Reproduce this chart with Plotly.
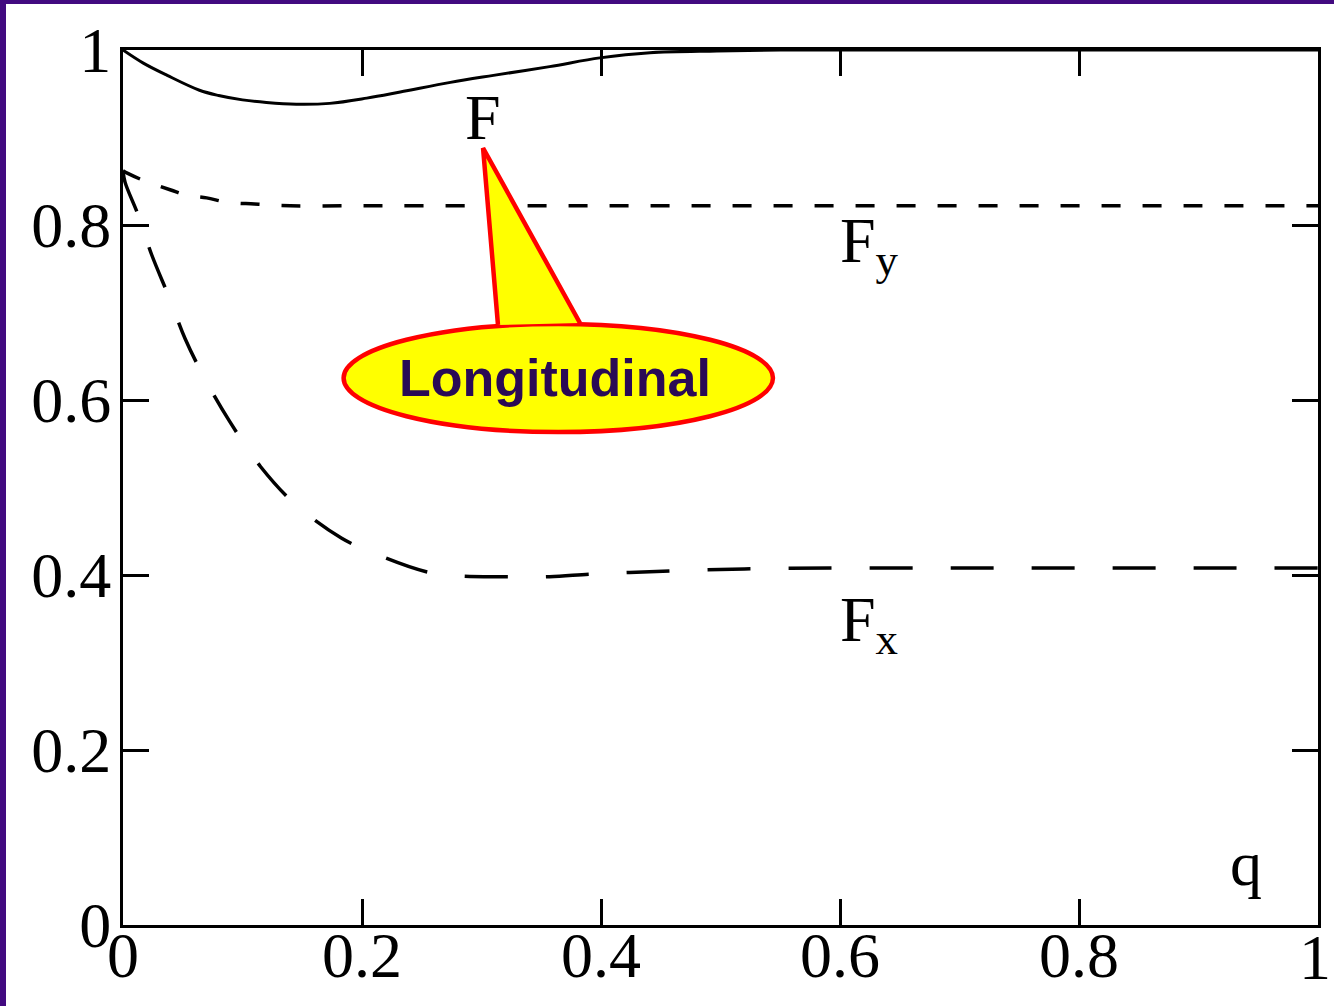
import plotly.graph_objects as go

# ---- data ----
q_F = [0.0, 0.017, 0.037, 0.064, 0.08, 0.1, 0.12, 0.145, 0.173, 0.204, 0.232, 0.274, 0.31,
       0.357, 0.399, 0.441, 0.497, 0.55, 0.6, 0.7, 0.8, 0.9, 1.0]
F = [1.0, 0.985, 0.971, 0.954, 0.948, 0.943, 0.94, 0.938, 0.939, 0.945, 0.952, 0.963, 0.971,
     0.981, 0.991, 0.997, 0.999, 1.0, 1.0, 1.0, 1.0, 1.0, 1.0]

q_Fy = [0.0, 0.004, 0.017, 0.04, 0.053, 0.07, 0.087, 0.11, 0.14, 0.2, 0.3, 0.4, 0.5, 0.6,
        0.7, 0.8, 0.9, 1.0]
Fy = [0.862, 0.859, 0.851, 0.84, 0.834, 0.831, 0.826, 0.824, 0.822, 0.822, 0.822, 0.822,
      0.822, 0.822, 0.822, 0.822, 0.822, 0.822]

q_Fx = [0.0, 0.0017, 0.0128, 0.024, 0.039, 0.052, 0.069, 0.0895, 0.115, 0.144, 0.183, 0.215,
        0.253, 0.28, 0.32, 0.357, 0.39, 0.424, 0.466, 0.52, 0.6, 0.7, 0.8, 0.9, 1.0]
Fx = [0.862, 0.849, 0.811, 0.766, 0.716, 0.670, 0.623, 0.575, 0.524, 0.481, 0.442, 0.422,
      0.404, 0.399, 0.398, 0.398, 0.401, 0.403, 0.405, 0.407, 0.408, 0.408, 0.408, 0.408, 0.408]

x_tick_vals = [0, 0.2, 0.4, 0.6, 0.8]
x_tick_text = ["0", "0.2", "0.4", "0.6", "0.8"]
x_last_tick = "1"
y_tick_vals = [0, 0.2, 0.4, 0.6, 0.8, 1]
y_tick_text = ["0", "0.2", "0.4", "0.6", "0.8", "1"]

SERIF = "Liberation Serif, Times New Roman, serif"
PURPLE = "#420a80"

fig = go.Figure()
fig.add_trace(go.Scatter(x=q_F, y=F, mode="lines", line=dict(color="black", width=3, shape="spline"),
                         showlegend=False, hoverinfo="skip"))
fig.add_trace(go.Scatter(x=q_Fy, y=Fy, mode="lines",
                         line=dict(color="black", width=3.5, dash="19px,22px", shape="spline"),
                         showlegend=False, hoverinfo="skip"))
fig.add_trace(go.Scatter(x=q_Fx, y=Fx, mode="lines",
                         line=dict(color="black", width=3.5, dash="43px,38px", shape="spline"),
                         showlegend=False, hoverinfo="skip"))

axis_common = dict(
    range=[0, 1], showgrid=False, zeroline=False,
    showline=True, linecolor="black", linewidth=3, mirror="ticks",
    ticks="inside", ticklen=26, tickwidth=2.5, tickcolor="black",
    tickfont=dict(family=SERIF, size=64, color="black"),
)
fig.update_xaxes(**axis_common, tickvals=x_tick_vals, ticktext=x_tick_text, ticklabelstandoff=-28)
fig.update_yaxes(**axis_common, tickvals=y_tick_vals, ticktext=y_tick_text, ticklabelstandoff=-4)

# page-edge positions in paper units (plot area spans px 123..1318 by 50..925)
PX0 = -123 / 1195
PX_STRIP = -117 / 1195
PX_RIGHT = (1334 - 123) / 1195
PY_BOTTOM = -81 / 875
PY_TOP = 925 / 875
PY_STRIP = 921 / 875

shapes = [
    # purple slide border strips (left and top)
    dict(type="rect", xref="paper", yref="paper", x0=PX0, x1=PX_STRIP, y0=PY_BOTTOM, y1=PY_TOP,
         fillcolor=PURPLE, line=dict(width=0), layer="above"),
    dict(type="rect", xref="paper", yref="paper", x0=PX0, x1=PX_RIGHT, y0=PY_STRIP, y1=PY_TOP,
         fillcolor=PURPLE, line=dict(width=0), layer="above"),
    # callout ellipse
    dict(type="circle", xref="x", yref="y", x0=0.1846, x1=0.5439, y0=0.5634, y1=0.6869,
         fillcolor="#ffff00", line=dict(color="#ff0000", width=4.5), layer="above"),
    # callout tail
    dict(type="path", xref="x", yref="y",
         path="M 0.3138,0.6857 L 0.3013,0.888 L 0.3824,0.688",
         fillcolor="#ffff00", line=dict(color="#ff0000", width=4.5), layer="above"),
]

annotations = [
    # last x tick label, pushed against the right page edge as in the reference
    dict(x=(1333 - 123) / 1195, y=-0.0377, xref="paper", yref="paper", text=x_last_tick,
         showarrow=False, xanchor="right", yanchor="middle",
         font=dict(family=SERIF, size=64, color="black")),
    dict(x=0.3013, y=0.9223, xref="x", yref="y", text="F", showarrow=False,
         font=dict(family=SERIF, size=64, color="black")),
    dict(x=0.598, y=0.777, xref="x", yref="y", text="F<sub>y</sub>", showarrow=False,
         xanchor="left", font=dict(family=SERIF, size=64, color="black")),
    dict(x=0.598, y=0.344, xref="x", yref="y", text="F<sub>x</sub>", showarrow=False,
         xanchor="left", font=dict(family=SERIF, size=64, color="black")),
    dict(x=0.94, y=0.07, xref="x", yref="y", text="q", showarrow=False,
         font=dict(family=SERIF, size=64, color="black")),
    dict(x=0.3615, y=0.625, xref="x", yref="y", text="<b>Longitudinal</b>", showarrow=False,
         font=dict(family="Liberation Sans, Arial, sans-serif", size=52, color="#2a0a55")),
]

fig.update_layout(
    width=1334, height=1006,
    margin=dict(l=123, r=16, t=50, b=81),
    paper_bgcolor="white", plot_bgcolor="white",
    shapes=shapes, annotations=annotations,
    showlegend=False,
)

post = (
    "document.documentElement.style.margin='0px';"
    "document.documentElement.style.overflow='hidden';"
    "document.body.style.margin='0px';"
    "document.body.style.overflow='hidden';"
    "var d=document.getElementById('{plot_id}');"
    "d.style.position='fixed';d.style.left='0px';d.style.top='0px';d.style.overflow='hidden';"
    "d.querySelectorAll('svg').forEach(function(s){s.style.overflow='hidden';});"
)
fig.write_html("out.html", config={"displayModeBar": False}, post_script=post)
